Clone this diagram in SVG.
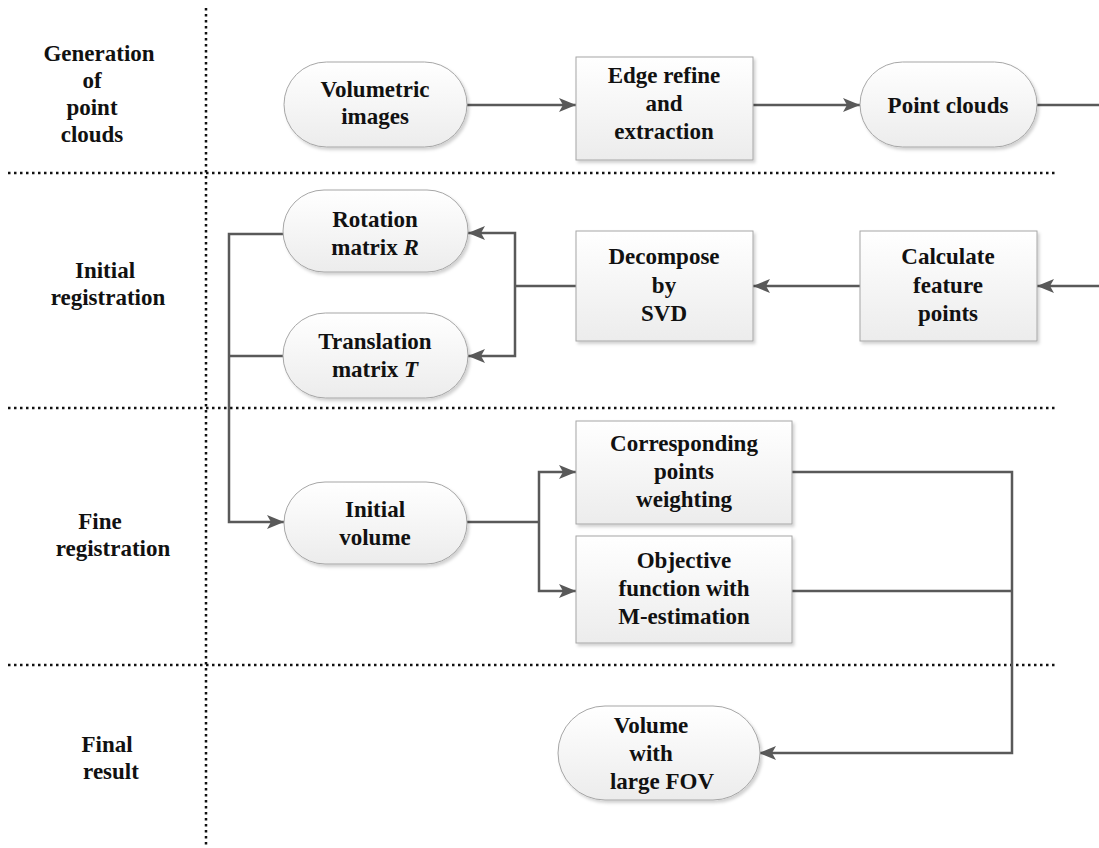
<svg xmlns="http://www.w3.org/2000/svg" width="1099" height="848" viewBox="0 0 1099 848">
<defs>
<linearGradient id="g" x1="0" y1="0" x2="0" y2="1">
<stop offset="0" stop-color="#ffffff"/>
<stop offset="1" stop-color="#ececec"/>
</linearGradient>
<filter id="sh" x="-10%" y="-10%" width="125%" height="130%">
<feDropShadow dx="2" dy="2.5" stdDeviation="1.5" flood-color="#000" flood-opacity="0.18"/>
</filter>
<marker id="arr" markerUnits="userSpaceOnUse" markerWidth="18" markerHeight="14" refX="17" refY="7" orient="auto">
<path d="M0,0 L17,7 L0,14 L4,7 Z" fill="#595959"/>
</marker>
</defs>
<style>
.n{fill:url(#g);stroke:#a6a6a6;stroke-width:1;filter:url(#sh)}
.t{font-family:"Liberation Serif","Times New Roman",serif;font-weight:bold;font-size:23px;fill:#111;text-anchor:middle}
.l{font-family:"Liberation Serif","Times New Roman",serif;font-weight:bold;font-size:23px;fill:#111;text-anchor:middle}
.c{fill:none;stroke:#595959;stroke-width:2.5}
.d{fill:none;stroke:#111;stroke-width:2.5;stroke-dasharray:2.5 3.5}
</style>
<g id="lanes">
<line class="d" x1="206" y1="8" x2="206" y2="848"/>
<line class="d" x1="8" y1="173" x2="1058" y2="173"/>
<line class="d" x1="8" y1="408" x2="1058" y2="408"/>
<line class="d" x1="8" y1="665" x2="1058" y2="665"/>
<text class="l"><tspan x="99" y="61">Generation</tspan><tspan x="92" y="88">of</tspan><tspan x="92" y="115">point</tspan><tspan x="92" y="142">clouds</tspan></text>
<text class="l"><tspan x="105" y="278">Initial</tspan><tspan x="108" y="305">registration</tspan></text>
<text class="l"><tspan x="100" y="529">Fine</tspan><tspan x="113" y="556">registration</tspan></text>
<text class="l"><tspan x="107" y="752">Final</tspan><tspan x="111" y="779">result</tspan></text>
</g>
<g id="connectors">
<path class="c" d="M467,105 H576" marker-end="url(#arr)"/>
<path class="c" d="M753,105 H860" marker-end="url(#arr)"/>
<path class="c" d="M1037,105 H1104 V286 H1037" marker-end="url(#arr)"/>
<path class="c" d="M860,286 H753" marker-end="url(#arr)"/>
<path class="c" d="M576,286 H515"/>
<path class="c" d="M515,286 V233 H468" marker-end="url(#arr)"/>
<path class="c" d="M515,286 V356 H468" marker-end="url(#arr)"/>
<path class="c" d="M283,234 H229 V522 H284" marker-end="url(#arr)"/>
<path class="c" d="M283,356 H229"/>
<path class="c" d="M467,522 H539"/>
<path class="c" d="M539,522 V472 H576" marker-end="url(#arr)"/>
<path class="c" d="M539,522 V591 H576" marker-end="url(#arr)"/>
<path class="c" d="M792,472 H1012 V753 H759" marker-end="url(#arr)"/>
<path class="c" d="M792,591 H1012"/>
</g>
<g id="volumetric">
<rect class="n" x="284" y="62" width="183" height="85" rx="42.5"/>
<text class="t"><tspan x="375" y="97">Volumetric</tspan><tspan x="375" y="124">images</tspan></text>
</g>
<g id="edge">
<rect class="n" x="576" y="57" width="177" height="103"/>
<text class="t"><tspan x="664" y="83">Edge refine</tspan><tspan x="664" y="111">and</tspan><tspan x="664" y="139">extraction</tspan></text>
</g>
<g id="pointclouds">
<rect class="n" x="860" y="62" width="177" height="85" rx="42.5"/>
<text class="t" x="948" y="113">Point clouds</text>
</g>
<g id="calculate">
<rect class="n" x="860" y="231" width="177" height="110"/>
<text class="t"><tspan x="948" y="264">Calculate</tspan><tspan x="948" y="293">feature</tspan><tspan x="948" y="321">points</tspan></text>
</g>
<g id="decompose">
<rect class="n" x="576" y="231" width="177" height="110"/>
<text class="t"><tspan x="664" y="264">Decompose</tspan><tspan x="664" y="293">by</tspan><tspan x="664" y="321">SVD</tspan></text>
</g>
<g id="rotation">
<rect class="n" x="283" y="190" width="185" height="82" rx="41"/>
<text class="t"><tspan x="375" y="227">Rotation</tspan><tspan x="375" y="255">matrix <tspan font-style="italic">R</tspan></tspan></text>
</g>
<g id="translation">
<rect class="n" x="283" y="313" width="185" height="85" rx="42.5"/>
<text class="t"><tspan x="375" y="349">Translation</tspan><tspan x="375" y="377">matrix <tspan font-style="italic">T</tspan></tspan></text>
</g>
<g id="initialvolume">
<rect class="n" x="284" y="482" width="183" height="82" rx="41"/>
<text class="t"><tspan x="375" y="517">Initial</tspan><tspan x="375" y="545">volume</tspan></text>
</g>
<g id="corresponding">
<rect class="n" x="576" y="421" width="216" height="103"/>
<text class="t"><tspan x="684" y="451">Corresponding</tspan><tspan x="684" y="479">points</tspan><tspan x="684" y="507">weighting</tspan></text>
</g>
<g id="objective">
<rect class="n" x="576" y="536" width="216" height="107"/>
<text class="t"><tspan x="684" y="568">Objective</tspan><tspan x="684" y="596">function with</tspan><tspan x="684" y="624">M-estimation</tspan></text>
</g>
<g id="final">
<rect class="n" x="558" y="706" width="202" height="94" rx="47"/>
<text class="t"><tspan x="651" y="733">Volume</tspan><tspan x="651" y="761">with</tspan><tspan x="662" y="789">large FOV</tspan></text>
</g>
</svg>
